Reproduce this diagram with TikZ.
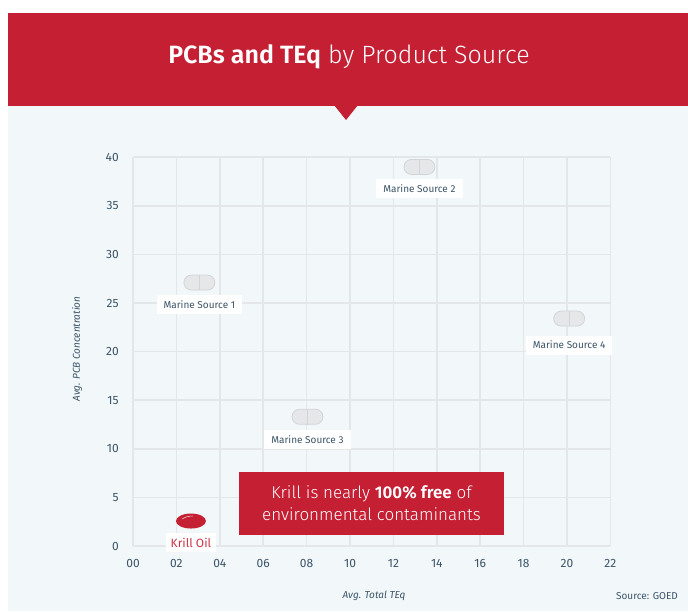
\documentclass[tikz,border=0pt]{standalone}
\usepackage{fontspec}
\setmainfont{Fira Sans Light}[BoldFont={Fira Sans SemiBold},ItalicFont={Fira Sans Light Italic}]
\newfontfamily\regfont{Fira Sans}[ItalicFont={Fira Sans Italic}]
\usetikzlibrary{positioning,shapes.geometric}

\definecolor{krillred}{HTML}{C41F33}
\definecolor{panelbg}{HTML}{F2F7F9}
\definecolor{gridgray}{HTML}{E3E7E9}
\definecolor{inkblue}{HTML}{3B5468}
\definecolor{pillgray}{HTML}{E6E7E8}
\definecolor{pilledge}{HTML}{D2D4D6}

\tikzset{
  gridline/.style={gridgray, line width=1.6pt},
  ticklbl/.style={text=inkblue, font=\regfont\fontsize{12}{12}\selectfont, inner sep=0pt},
  pill/.style={draw=pilledge, fill=pillgray, line width=0.8pt, minimum width=31pt,
    minimum height=15pt, rounded corners=7.5pt, inner sep=0pt},
  srclbl/.style={fill=white, text=inkblue, font=\regfont\fontsize{10}{10}\selectfont,
    minimum height=19pt, inner xsep=7pt, inner ysep=0pt},
  axtitle/.style={text=inkblue, font=\regfont\fontsize{10}{10}\selectfont\itshape, inner sep=0pt},
}

\begin{document}
\begin{tikzpicture}[x=1pt,y=1pt]
\useasboundingbox (0,0) rectangle (688,-611);
% header band and panel
\fill[panelbg] (8,-106) rectangle (688,-611);
\fill[krillred] (8,-13) rectangle (688,-106);
\fill[krillred] (334,-105) -- (358,-105) -- (346,-120) -- cycle;
\node[text=white, font=\fontsize{25}{25}\selectfont] (title) at (349,-57)
  {\textbf{PCBs and TEq} by Product Source};

% plot area, data units
\begin{scope}[shift={(133,-546)}, x=21.7pt, y=9.72pt]
\foreach \gx in {0,2,...,22}
  \draw[gridline] (\gx,0) -- (\gx,40);
\foreach \gy in {0,5,...,40}
  \draw[gridline] (0,\gy) -- (22,\gy);
\foreach \gx/\txt in {0/00,2/02,4/04,6/06,8/08,10/10,12/12,14/14,16/16,18/18,20/20,22/22}
  \node[ticklbl] (xt\gx) at (\gx,-1.8) {\txt};
\foreach \gy in {0,5,...,40}
  \node[ticklbl, anchor=east] (yt\gy) at (-0.65,\gy) {\gy};

% sources
\node[pill] (ms1) at (3.06,27.1) {};
\node[pill] (ms2) at (13.2,39.0) {};
\node[pill] (ms3) at (8.04,13.3) {};
\node[pill] (ms4) at (20.1,23.4) {};
\foreach \p in {ms1,ms2,ms3,ms4}
  \draw[pilledge, line width=0.8pt] (\p.north) -- (\p.south);
\node[srclbl, below=4pt of ms1] (ms1lbl) {Marine Source 1};
\node[srclbl, below=4pt of ms2] (ms2lbl) {Marine Source 2};
\node[srclbl, below=5pt of ms3] (ms3lbl) {Marine Source 3};
\node[srclbl, below=9pt of ms4] (ms4lbl) {Marine Source 4};

% krill oil capsule
\node[ellipse, fill=krillred, minimum width=30pt, minimum height=15pt, inner sep=0pt]
  (krill) at (2.67,2.57) {};
\draw[white!75!krillred, line width=0.6pt] ([shift={(-9pt,2pt)}]krill.center)
  to[bend left=15] ([shift={(2pt,5pt)}]krill.center);
\node[srclbl, text=krillred!90!white, font=\regfont\fontsize{12}{12}\selectfont,
  inner xsep=5pt, below=4pt of krill] (krilllbl) {Krill Oil};
\end{scope}

% callout
\node[fill=krillred, text=white, minimum width=265pt, minimum height=63pt, align=center,
  font=\fontsize{17}{22}\selectfont] (callout) at (371.5,-503.5)
  {Krill is nearly \textbf{100\% free}\ of\\environmental contaminants};

% axis titles and source note
\node[axtitle, rotate=90] (ytitle) at (77,-349) {Avg. PCB Concentration};
\node[axtitle] (xtitle) at (374,-596) {Avg. Total TEq};
\node[text=inkblue, font=\regfont\fontsize{10}{10}\selectfont, anchor=east, inner sep=0pt]
  (source) at (678,-596) {Source: GOED};
\end{tikzpicture}
\end{document}
